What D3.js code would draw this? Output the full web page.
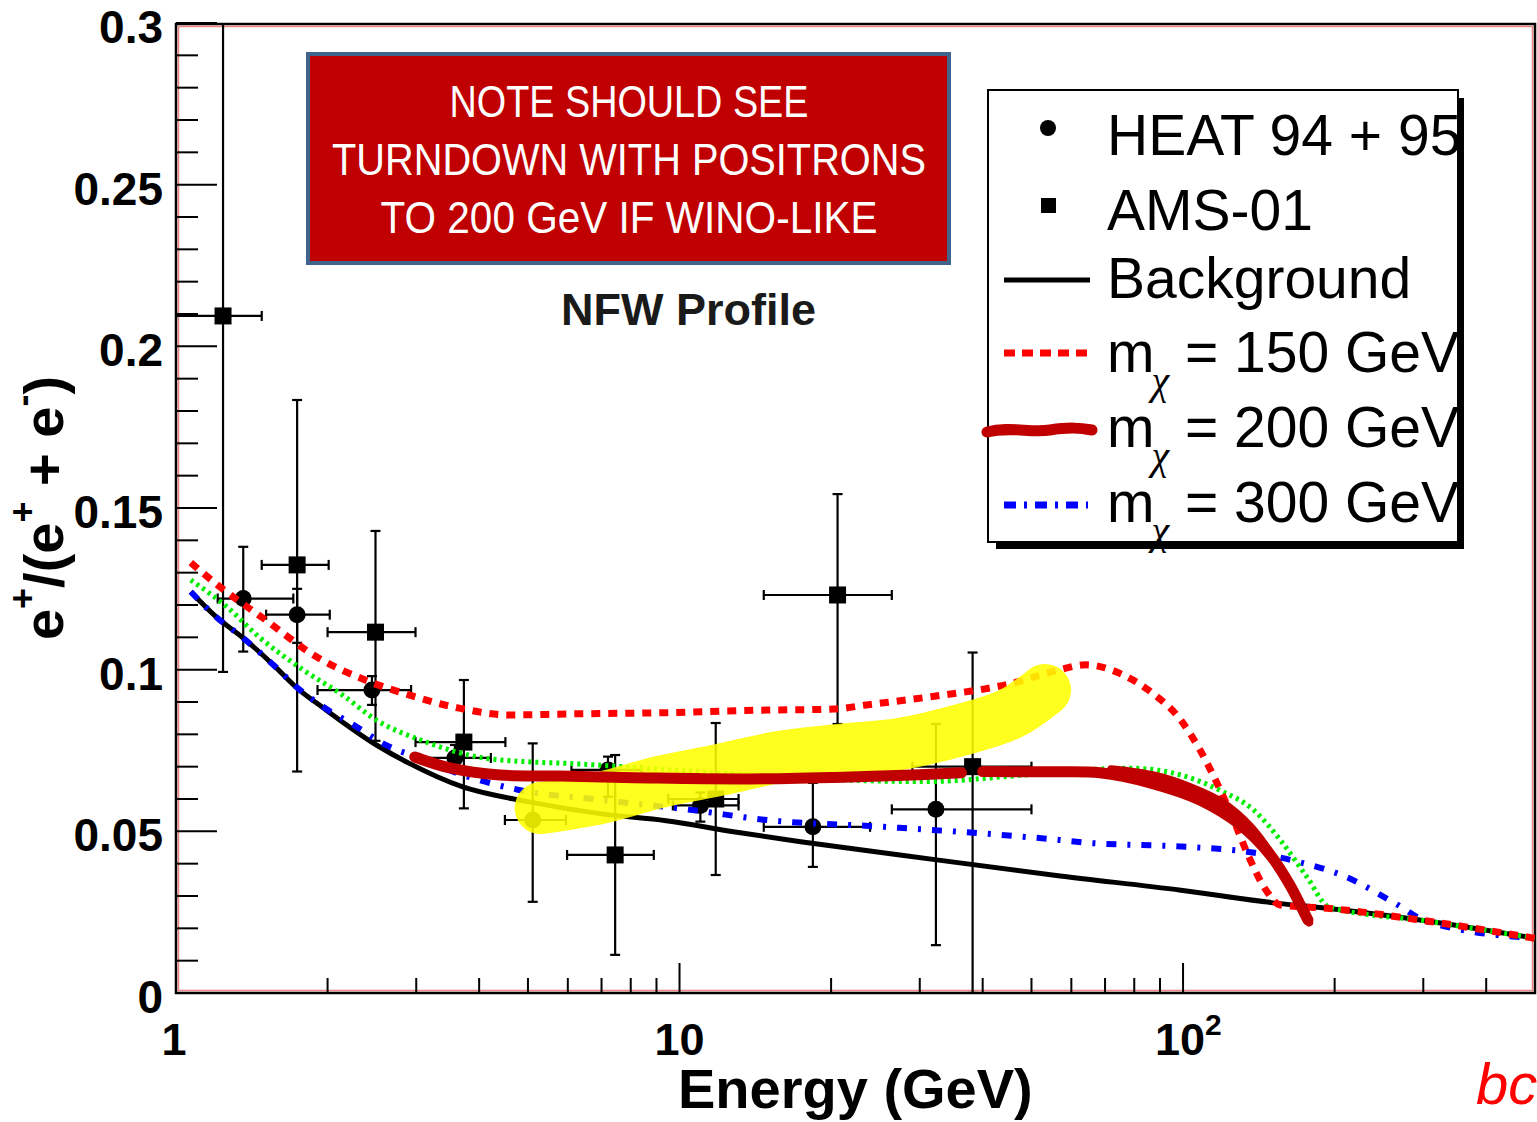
<!DOCTYPE html>
<html lang="en">
<head>
<meta charset="UTF-8">
<title>Positron fraction - NFW Profile</title>
<script src="https://d3js.org/d3.v7.min.js"></script>
<style>
  body { margin: 0; background: #ffffff; }
  svg { display: block; }
  text { font-family: 'Liberation Sans', Arial, Helvetica, sans-serif; }
</style>
</head>
<body>
<svg id="chart" width="1537" height="1122"></svg>
<script>
// ---- HEAT 94 + 95 (circles) ----
const heatE   = [1.36, 1.74, 2.45, 3.58, 5.11, 7.21, 11.0, 18.4, 32.3];
const heatVal = [0.122, 0.117, 0.0937, 0.0727, 0.0535, 0.069, 0.058, 0.0514, 0.0568];
const heatELo = [1.21, 1.51, 1.91, 3.05, 4.5, 6.1, 9.7, 14.7, 26.4];
const heatEHi = [1.71, 2.02, 2.93, 4.22, 5.95, 8.4, 13.1, 23.9, 50];
const heatLo  = [0.1056, 0.1083, 0.0891, 0.0687, 0.0282, 0.0607, 0.053, 0.039, 0.0148];
const heatHi  = [0.138, 0.125, 0.098, 0.0767, 0.0772, 0.0731, 0.062, 0.065, 0.0832];

// ---- AMS-01 (squares) ----
const amsE   = [1.24, 1.74, 2.49, 3.73, 7.45, 11.8, 20.6, 38.2];
const amsVal = [0.2094, 0.1324, 0.1116, 0.0776, 0.0427, 0.060, 0.1231, 0.070];
const amsELo = [1.0, 1.48, 2.0, 2.99, 5.98, 9.5, 14.7, 29];
const amsEHi = [1.48, 2.01, 2.99, 4.51, 8.89, 13.1, 26.4, 50];
const amsLo  = [0.0993, 0.0685, 0.078, 0.0571, 0.0118, 0.0365, 0.0832, 0];
const amsHi  = [0.32, 0.1834, 0.1429, 0.0968, 0.0736, 0.0835, 0.1543, 0.1053];

// ---- model curves ----
const bgE = [1.07, 1.2, 1.36, 1.56, 1.74, 1.96, 2.5, 2.9, 3.7, 5.0, 7.0, 9.4, 12.8, 17.4, 27.4, 57, 99, 153, 193, 310, 500];
const bgY = [0.1241, 0.1164, 0.1098, 0.1015, 0.0943, 0.0882, 0.0767, 0.0711, 0.0638, 0.0592, 0.0554, 0.0533, 0.0499, 0.0468, 0.0427, 0.0362, 0.0318, 0.0278, 0.0262, 0.0221, 0.0169];

const m150E = [1.07, 1.22, 1.49, 1.9, 2.42, 2.9, 3.65, 4.6, 6.0, 9.4, 14.9, 20.2, 23.5, 31.8, 45, 57, 64, 76, 87, 99, 108, 116, 126, 135, 146, 156, 193, 310, 500];
const m150Y = [0.1331, 0.1257, 0.1159, 0.104, 0.0963, 0.0922, 0.0881, 0.086, 0.0863, 0.0867, 0.0875, 0.0878, 0.0891, 0.0917, 0.0955, 0.1, 0.1015, 0.0984, 0.0927, 0.0844, 0.0752, 0.0659, 0.0535, 0.0422, 0.0319, 0.0272, 0.0262, 0.0221, 0.0169];

const m200E = [1.07, 1.26, 1.46, 1.79, 2.14, 2.5, 3.13, 3.94, 5.0, 6.0, 8.1, 12, 20, 31, 45, 63, 79, 99, 118, 138, 156, 176, 195, 310, 500];
const m200Y = [0.1277, 0.1195, 0.1102, 0.0999, 0.0922, 0.0844, 0.0777, 0.0731, 0.0715, 0.071, 0.0698, 0.068, 0.066, 0.0654, 0.067, 0.069, 0.0695, 0.0674, 0.0628, 0.0566, 0.0473, 0.036, 0.0266, 0.0221, 0.0169];

const m300E = [1.07, 1.2, 1.36, 1.56, 1.74, 1.96, 2.28, 2.61, 3.0, 3.7, 4.8, 7.0, 10.6, 14.9, 25.4, 57, 64, 99, 134, 169, 210, 264, 304, 500];
const m300Y = [0.1241, 0.1164, 0.1098, 0.1015, 0.0945, 0.0885, 0.0824, 0.0767, 0.073, 0.0675, 0.0628, 0.0597, 0.0566, 0.0535, 0.0514, 0.0473, 0.0465, 0.0453, 0.0437, 0.0406, 0.036, 0.0277, 0.0222, 0.0169];

// ---- hand annotations drawn over the plot ----
const handE = [2.98, 3.5, 4.4, 5.8, 8.7, 13.8, 21.8, 30.0, 36.3, 38.0, 40.0, 54.4, 68.4, 86, 108, 130, 149, 163, 171, 177];
const handY = [0.073, 0.0696, 0.0674, 0.0671, 0.0665, 0.0662, 0.0668, 0.0675, 0.0681, null, 0.0685, 0.0684, 0.0681, 0.065, 0.0597, 0.052, 0.0427, 0.0334, 0.0272, 0.0226];
const scribbleE = [72, 88, 104, 120, 136, 150, 163, 172, 178];
const scribbleY = [0.0692, 0.0672, 0.0635, 0.0588, 0.0515, 0.0428, 0.0335, 0.0265, 0.0218];
const yellowE = [5.3, 6.95, 9.15, 12.0, 15.8, 20.8, 27.4, 36.1, 45.3, 53.2];
const yellowY = [0.0572, 0.0603, 0.0653, 0.069, 0.073, 0.0752, 0.077, 0.0813, 0.0863, 0.0937];

const yTicks = d3.range(0, 0.3001, 0.01);
const yLabels = ['0', '0.05', '0.1', '0.15', '0.2', '0.25', '0.3'];
const xMinor = [2, 3, 4, 5, 6, 7, 8, 9, 20, 30, 40, 50, 60, 70, 80, 90, 200, 300, 400, 500];
const noteLines = ['NOTE SHOULD SEE', 'TURNDOWN WITH POSITRONS', 'TO 200 GeV IF WINO-LIKE'];
const legendNames = ['HEAT 94 + 95', 'AMS-01', 'Background', '150 GeV', '200 GeV', '300 GeV'];

const svg = d3.select('#chart');
const x = d3.scaleLog().domain([1, 500]).range([176, 1535]);
const y = d3.scaleLinear().domain([0, 0.3]).range([993, 23]);
const zip = (a, b) => a.map((v, i) => [v, b[i]]);

svg.append('defs').append('clipPath').attr('id', 'plot')
  .append('rect').attr('x', 176).attr('y', 24).attr('width', 1359).attr('height', 969);

// frame
svg.append('rect').attr('x', 176).attr('y', 24).attr('width', 1359).attr('height', 969)
  .attr('fill', 'none').attr('stroke', '#000').attr('stroke-width', 2.5);
svg.append('rect').attr('x', 178.5).attr('y', 26.5).attr('width', 1354).attr('height', 964)
  .attr('fill', 'none').attr('stroke', '#e02020').attr('stroke-width', 1.5).attr('opacity', 0.55);

// y axis ticks + labels
svg.append('g').selectAll('line').data(yTicks).join('line')
  .attr('x1', 176).attr('x2', (d, i) => i % 5 === 0 ? 217 : 198)
  .attr('y1', d => y(d)).attr('y2', d => y(d))
  .attr('stroke', '#000').attr('stroke-width', 2);
svg.append('g').selectAll('text').data(yLabels).join('text')
  .attr('x', 163).attr('y', d => y(+d) + 20)
  .attr('text-anchor', 'end').attr('font-size', 46).attr('font-weight', 'bold')
  .text(d => d);

// x axis ticks + labels
svg.append('g').selectAll('line').data(xMinor).join('line')
  .attr('x1', d => x(d)).attr('x2', d => x(d)).attr('y1', 993).attr('y2', 978)
  .attr('stroke', '#000').attr('stroke-width', 2);
svg.append('g').selectAll('line').data([10, 100]).join('line')
  .attr('x1', d => x(d)).attr('x2', d => x(d)).attr('y1', 993).attr('y2', 963)
  .attr('stroke', '#000').attr('stroke-width', 2);
const xl = svg.append('g').attr('font-size', 45).attr('font-weight', 'bold');
xl.append('text').attr('x', x(1) - 2).attr('y', 1055).attr('text-anchor', 'middle').text('1');
xl.append('text').attr('x', x(10)).attr('y', 1055).attr('text-anchor', 'middle').text('10');
const t100 = xl.append('text').attr('x', x(100) - 28).attr('y', 1055);
t100.append('tspan').text('10');
t100.append('tspan').attr('dy', -20).attr('font-size', 30).text('2');

svg.append('text').attr('x', 678).attr('y', 1108)
  .attr('font-size', 56).attr('font-weight', 'bold').text('Energy (GeV)');

const yt = svg.append('text').attr('transform', 'translate(63,508) rotate(-90)')
  .attr('text-anchor', 'middle').attr('font-size', 56).attr('font-weight', 'bold');
yt.append('tspan').text('e');
yt.append('tspan').attr('dy', -28).attr('font-size', 36).text('+');
yt.append('tspan').attr('dy', 28).text('/(e');
yt.append('tspan').attr('dy', -28).attr('font-size', 36).text('+');
yt.append('tspan').attr('dy', 28).text(' + e');
yt.append('tspan').attr('dy', -28).attr('font-size', 36).text('-');
yt.append('tspan').attr('dy', 28).text(')');

// plot contents
const plot = svg.append('g').attr('clip-path', 'url(#plot)');

function drawPoints(E, V, eLo, eHi, lo, hi, shape) {
  const g = plot.append('g').attr('stroke', '#000').attr('stroke-width', 2.2);
  E.forEach((e, i) => {
    const cx = x(e), cy = y(V[i]);
    const xa = x(eLo[i]), xb = x(eHi[i]), ya = y(lo[i]), yb = y(hi[i]);
    g.append('line').attr('x1', xa).attr('x2', xb).attr('y1', cy).attr('y2', cy);
    g.append('line').attr('x1', cx).attr('x2', cx).attr('y1', ya).attr('y2', yb);
    g.append('line').attr('x1', xa).attr('x2', xa).attr('y1', cy - 5).attr('y2', cy + 5);
    g.append('line').attr('x1', xb).attr('x2', xb).attr('y1', cy - 5).attr('y2', cy + 5);
    g.append('line').attr('x1', cx - 5).attr('x2', cx + 5).attr('y1', ya).attr('y2', ya);
    g.append('line').attr('x1', cx - 5).attr('x2', cx + 5).attr('y1', yb).attr('y2', yb);
    if (shape === 'circle') {
      g.append('circle').attr('cx', cx).attr('cy', cy).attr('r', 8.5).attr('fill', '#000').attr('stroke', 'none');
    } else {
      g.append('rect').attr('x', cx - 8.5).attr('y', cy - 8.5).attr('width', 17).attr('height', 17)
        .attr('fill', '#000').attr('stroke', 'none');
    }
  });
}
drawPoints(heatE, heatVal, heatELo, heatEHi, heatLo, heatHi, 'circle');
drawPoints(amsE, amsVal, amsELo, amsEHi, amsLo, amsHi, 'square');

const line = d3.line().x(d => x(d[0])).y(d => y(d[1])).curve(d3.curveMonotoneX);

plot.append('path').attr('d', line(zip(bgE, bgY)))
  .attr('fill', 'none').attr('stroke', '#000').attr('stroke-width', 5);
plot.append('path').attr('d', line(zip(m300E, m300Y)))
  .attr('fill', 'none').attr('stroke', '#0000ff').attr('stroke-width', 6)
  .attr('stroke-dasharray', '10,11,3,11');
plot.append('path').attr('d', line(zip(m200E, m200Y)))
  .attr('fill', 'none').attr('stroke', '#00ee00').attr('stroke-width', 5)
  .attr('stroke-dasharray', '3,4');
plot.append('path').attr('d', line(zip(m150E, m150Y)))
  .attr('fill', 'none').attr('stroke', '#ff0000').attr('stroke-width', 7)
  .attr('stroke-dasharray', '9,8');

// NFW profile caption
svg.append('text').attr('x', 561).attr('y', 325).attr('font-size', 45)
  .attr('font-weight', 'bold').attr('fill', '#1a1a1a').text('NFW Profile');

// highlighter + hand stroke
plot.append('path').attr('d', d3.line().x(d => x(d[0])).y(d => y(d[1])).curve(d3.curveCatmullRom)(zip(yellowE, yellowY)))
  .attr('fill', 'none').attr('stroke', '#ffff00').attr('stroke-width', 52)
  .attr('stroke-linecap', 'round').attr('stroke-linejoin', 'round').attr('opacity', 0.88);
const hand = d3.line().defined(d => d[1] != null)
  .x(d => x(d[0])).y(d => y(d[1])).curve(d3.curveCatmullRom);
plot.append('path').attr('d', hand(zip(handE, handY)))
  .attr('fill', 'none').attr('stroke', '#c00000').attr('stroke-width', 11)
  .attr('stroke-linecap', 'round').attr('stroke-linejoin', 'round');
plot.append('path').attr('d', hand(zip(scribbleE, scribbleY)))
  .attr('fill', 'none').attr('stroke', '#c00000').attr('stroke-width', 8)
  .attr('stroke-linecap', 'round').attr('stroke-linejoin', 'round');

// note box
const note = svg.append('g');
note.append('rect').attr('x', 308).attr('y', 54).attr('width', 641).attr('height', 209)
  .attr('fill', '#c00000').attr('stroke', '#41648c').attr('stroke-width', 4);
const noteW = [359, 594, 497];
note.selectAll('text').data(noteLines).join('text')
  .attr('x', 629).attr('y', (d, i) => 117 + i * 58)
  .attr('text-anchor', 'middle').attr('fill', '#fff')
  .attr('font-family', 'Lato, "Open Sans", sans-serif').attr('font-size', 44)
  .attr('textLength', (d, i) => noteW[i]).attr('lengthAdjust', 'spacingAndGlyphs')
  .text(d => d);

// legend
const leg = svg.append('g');
leg.append('rect').attr('x', 996).attr('y', 98).attr('width', 468).attr('height', 451).attr('fill', '#000');
leg.append('rect').attr('x', 988).attr('y', 90).attr('width', 470).attr('height', 452)
  .attr('fill', '#fff').attr('stroke', '#000').attr('stroke-width', 2);
leg.append('defs').append('clipPath').attr('id', 'legclip')
  .append('rect').attr('x', 988).attr('y', 90).attr('width', 472).attr('height', 470);
const rowY = [155, 230, 298, 372, 447, 522];
leg.append('circle').attr('cx', 1048).attr('cy', 128).attr('r', 8).attr('fill', '#000');
leg.append('rect').attr('x', 1041).attr('y', 198).attr('width', 15).attr('height', 15).attr('fill', '#000');
leg.append('line').attr('x1', 1004).attr('x2', 1090).attr('y1', 280).attr('y2', 280)
  .attr('stroke', '#000').attr('stroke-width', 5);
leg.append('line').attr('x1', 1004).attr('x2', 1088).attr('y1', 353).attr('y2', 353)
  .attr('stroke', '#ff0000').attr('stroke-width', 7).attr('stroke-dasharray', '11,7');
leg.append('path').attr('d', 'M987,432 C1010,426 1030,433 1050,430 S1080,428 1092,430')
  .attr('fill', 'none').attr('stroke', '#c00000').attr('stroke-width', 11).attr('stroke-linecap', 'round');
leg.append('line').attr('x1', 1004).attr('x2', 1088).attr('y1', 505).attr('y2', 505)
  .attr('stroke', '#0000ff').attr('stroke-width', 7).attr('stroke-dasharray', '12,8,3,8');

const lt = leg.append('g').attr('clip-path', 'url(#legclip)').attr('font-size', 57).attr('fill', '#000');
legendNames.forEach((name, i) => {
  const t = lt.append('text').attr('x', 1107).attr('y', rowY[i]);
  if (i < 3) { t.text(name); return; }
  t.append('tspan').text('m');
  t.append('tspan').attr('dx', -3).attr('dy', 22).attr('font-size', 40)
    .attr('font-family', '"Liberation Serif", serif').attr('font-style', 'italic').text('χ');
  t.append('tspan').attr('dy', -22).text(' = ' + name);
});

// stray handwriting at the corner
svg.append('text').attr('x', 1476).attr('y', 1104).attr('font-size', 58)
  .attr('font-family', '"Liberation Serif", serif').attr('font-style', 'italic')
  .attr('fill', '#ff0000').text('bc');
</script>
</body>
</html>
